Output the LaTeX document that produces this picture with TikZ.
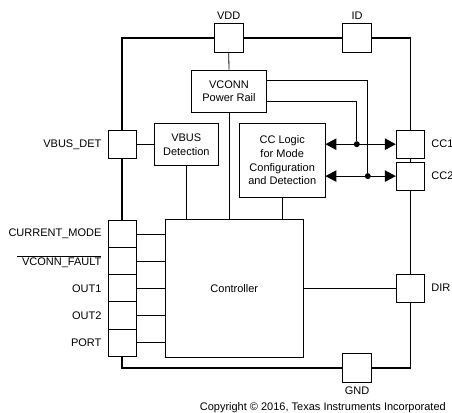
\documentclass[tikz,border=0pt]{standalone}
\usepackage{fontspec}
\setmainfont{Liberation Sans}
\usetikzlibrary{arrows.meta, positioning}

\begin{document}
\begin{tikzpicture}[
  x=1pt, y=-1pt,
  every node/.style = {font=\fontsize{11}{13.6}\selectfont},
  pinbox/.style = {
    rectangle, draw, line width=0.8pt,
    minimum width=28.6pt, minimum height=28.6pt,
    inner sep=0pt
  },
  stackpin/.style = {pinbox, minimum height=27.06pt},
  block/.style = {
    rectangle, draw, line width=0.8pt,
    align=center, inner sep=0pt
  },
  lbl/.style = {inner sep=0pt},
  outline/.style = {line width=1.8pt},
  wire/.style = {line width=0.8pt},
  biarrow/.style = {{Triangle[length=11pt,width=11.5pt]}-{Triangle[length=11pt,width=11.5pt]}, line width=1pt},
  dot/.style = {circle, fill, inner sep=0pt, minimum size=6pt}
]
\useasboundingbox (0,0) rectangle (452,412);
%--- PINOS ---
\node[pinbox] (vdd)     at (228.7,37.7) {};
\node[pinbox] (id)      at (357,37.7) {};
\node[pinbox] (vbusdet) at (122.3,144.5) {};
\node[pinbox] (cc1)     at (410.5,144.2) {};
\node[pinbox, minimum height=27.7pt] (cc2) at (410.5,176.1) {};
\node[pinbox] (dir)     at (410.5,288.2) {};
\node[pinbox] (gnd)     at (357,367.8) {};
\node[stackpin] (cmode) at (122.3,234.2) {};
\node[stackpin] (fault) at (122.3,261.3) {};
\node[stackpin] (out1)  at (122.3,288.3) {};
\node[stackpin] (out2)  at (122.3,315.4) {};
\node[stackpin] (port)  at (122.3,342.5) {};
%--- BLOCOS INTERNOS ---
\node[block, minimum width=75.4pt, minimum height=42.3pt]  (vconn)   at (229,91.2)    {VCONN\\Power Rail};
\node[block, minimum width=64pt, minimum height=42.4pt]    (vbus)    at (186.3,144.5) {VBUS\\Detection};
\node[block, minimum width=85.7pt, minimum height=74pt]    (cclogic) at (282.2,160.3) {CC Logic\\for Mode\\Configuration\\and Detection};
\node[block, minimum width=138.7pt, minimum height=138.4pt] (ctrl)   at (234.3,288.5) {Controller};
%--- CONTORNO DO CHIP ---
\draw[outline] (vdd.west) -| (vbusdet.north)
  (vbusdet.south) -- (cmode.north)
  (port.south) |- (gnd.west)
  (gnd.east) -| (dir.south)
  (dir.north) -- (cc2.south)
  (cc2.north) -- (cc1.south)
  (cc1.north) |- (id.east)
  (id.west) -- (vdd.east);
%--- LIGACOES ---
\draw[wire] (vdd.south) -- (vconn.north);
\draw[wire] (vconn.south) -- (vconn.south |- ctrl.north);
\draw[wire] (vbusdet.east) -- (vbus.west);
\draw[wire] (vbus.south) -- (vbus.south |- ctrl.north);
\draw[wire] (cclogic.south) -- (cclogic.south |- ctrl.north);
\draw[wire] (ctrl.east |- dir) -- (dir.west);
\foreach \p in {cmode, fault, out1, out2, port}
  \draw[wire] (\p.east) -- (\p.east -| ctrl.west);
%--- SETAS CC ---
\draw[biarrow] (cclogic.east |- cc1) -- (cc1.west);
\draw[biarrow] (cclogic.east |- cc2) -- (cc2.west);
\path (cc1.west) ++(-39,0) node[dot] (j1) {};
\path (cc2.west) ++(-28,0) node[dot] (j2) {};
\draw[wire] ([yshift=11.2pt]vconn.east) -| (j2);
\draw[wire] ([yshift=-10.5pt]vconn.east) -| (j1);
%--- ROTULOS ---
\node[lbl, above=3.5pt of vdd]   (vddlbl)  {VDD};
\node[lbl, above=3.5pt of id]    (idlbl)   {ID};
\node[lbl, below=4.5pt of gnd]   (gndlbl)  {GND};
\node[lbl, left=6pt of vbusdet]  (vbuslbl) {VBUS\_DET};
\node[lbl, right=6pt of cc1]     (cc1lbl)  {CC1};
\node[lbl, right=6pt of cc2]     (cc2lbl)  {CC2};
\node[lbl, right=6pt of dir]     (dirlbl)  {DIR};
\node[lbl, left=6pt of cmode]    (cmodelbl) {CURRENT\_MODE};
\node[lbl, left=6pt of fault]    (faultlbl) {$\overline{\hbox{\hspace{5pt}VCONN\_FAULT}}$};
\node[lbl, left=6pt of out1]     (out1lbl) {OUT1};
\node[lbl, left=6pt of out2]     (out2lbl) {OUT2};
\node[lbl, left=6pt of port]     (portlbl) {PORT};
\node[lbl, anchor=base east] (copy) at (446,410) {Copyright \textcopyright{} 2016, Texas Instruments Incorporated};
\end{tikzpicture}
\end{document}
